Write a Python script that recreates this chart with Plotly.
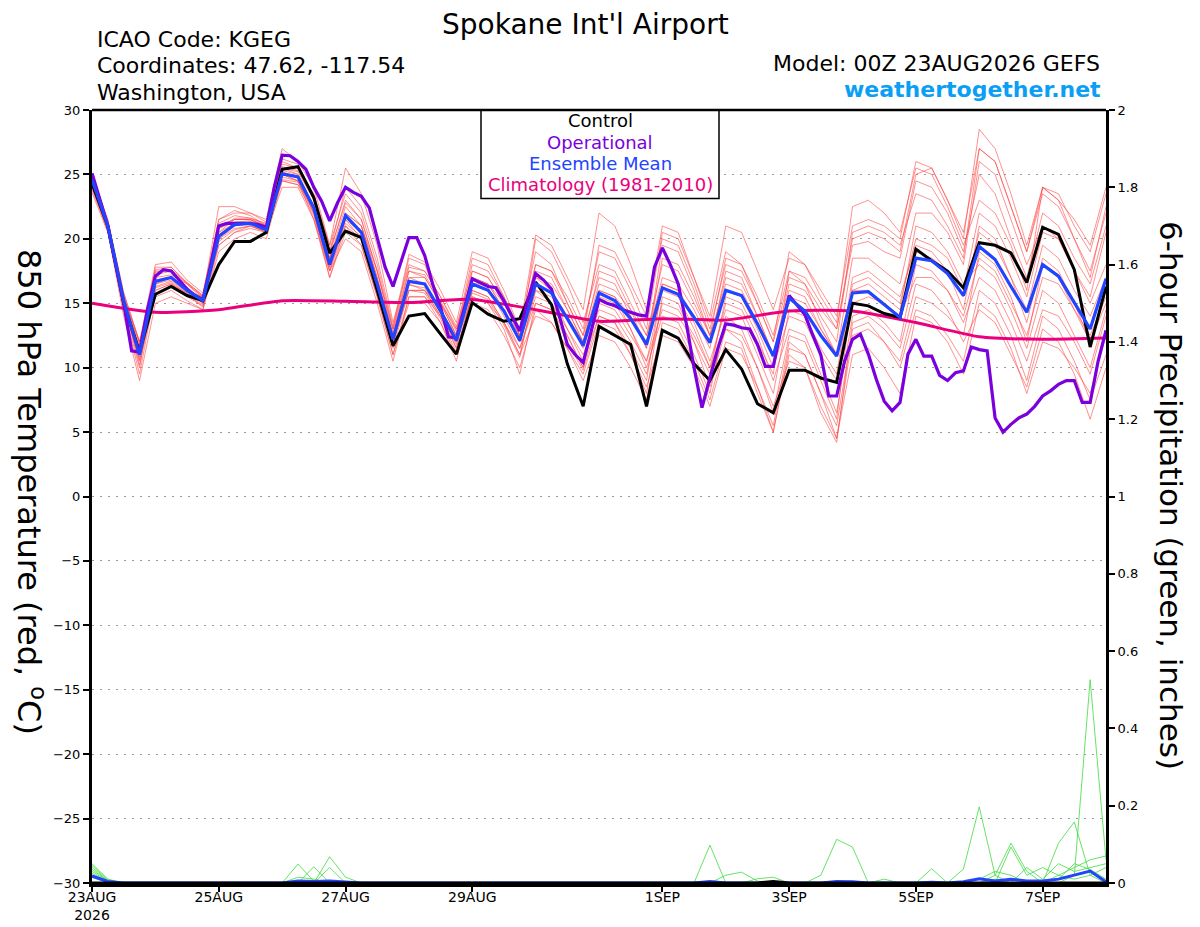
import plotly.graph_objects as go

# forecast hours, 6-hourly from 00Z 23AUG2026 to 00Z 8SEP2026
hours = [6 * i for i in range(65)]
op_hours = [3 * k for k in range(129)]
clim_hours = [24 * d for d in range(17)]

tick_hours = [0, 48, 96, 144, 216, 264, 312, 360]
tick_labels = ["23AUG<br>2026", "25AUG", "27AUG", "29AUG", "1SEP", "3SEP", "5SEP", "7SEP"]

# 850 hPa temperature, degC
control = [
    24.3, 21.0, 15.0, 11.2, 15.7, 16.3, 15.6, 15.2, 18.0, 19.8, 19.8, 20.5,
    25.4, 25.6, 23.2, 18.9, 20.6, 20.1, 16.0, 11.7, 14.0, 14.2, 12.6, 11.05,
    15.05, 14.15, 13.6, 13.8, 16.65, 14.9, 10.3, 7.0, 13.2, 12.5, 11.8, 7.0,
    12.9, 12.3, 10.3, 9.0, 11.4, 9.9, 7.2, 6.5, 9.8, 9.8, 9.2, 8.85,
    15.0, 14.8, 14.2, 13.9, 19.2, 18.3, 17.5, 16.2, 19.7, 19.5, 18.9, 16.6,
    20.9, 20.35, 17.6, 11.6, 16.3,
]
ens_mean = [
    24.6, 21.0, 15.2, 11.0, 16.7, 17.0, 16.0, 15.2, 20.2, 21.1, 21.2, 20.7,
    25.05, 24.8, 22.4, 18.0, 21.8, 20.5, 16.5, 12.2, 16.7, 16.5, 14.4, 12.1,
    16.5, 16.0, 14.4, 12.1, 16.5, 15.8, 13.8, 11.7, 15.8, 15.2, 13.8, 11.8,
    16.2, 15.7, 13.9, 11.95, 16.0, 15.6, 13.4, 10.9, 15.4, 14.4, 12.5, 10.9,
    15.8, 15.9, 14.9, 13.9, 18.5, 18.3, 17.3, 15.6, 19.4, 18.4, 16.3, 14.3,
    18.0, 17.1, 15.05, 13.0, 16.9,
]
operational = [
    25.1, 23.0, 21.0, 18.0, 15.0, 11.3, 11.2, 14.5, 17.1, 17.6, 17.5, 16.8,
    16.1, 15.6, 15.3, 18.0, 21.0, 21.2, 21.2, 21.2, 21.2, 21.1, 20.9, 24.0,
    26.5, 26.45, 26.0, 25.4, 24.0, 22.9, 21.4, 22.8, 24.0, 23.6, 23.3, 22.4,
    20.0, 17.8, 16.3, 18.3, 20.1, 20.1, 18.7, 16.5, 14.7, 12.4, 12.3, 14.6,
    16.9, 16.6, 16.3, 16.2, 15.2, 14.0, 12.85, 15.2, 17.3, 16.8, 16.1, 14.0,
    11.8, 11.0, 10.4, 12.8, 15.3, 15.0, 14.8, 14.5, 14.3, 14.1, 14.0, 17.8,
    19.3, 18.0, 16.5, 13.5, 10.0, 6.9, 9.2, 11.5, 13.4, 13.3, 13.1, 13.0,
    11.8, 10.1, 10.1, 13.0, 15.6, 14.8, 14.1, 12.5, 11.0, 7.8, 7.8, 10.5,
    12.2, 12.6, 11.05, 9.1, 7.4, 6.65, 7.3, 11.05, 12.2, 10.9, 10.9, 9.4,
    9.0, 9.6, 9.75, 11.6, 11.4, 11.3, 6.1, 5.0, 5.6, 6.1, 6.4, 7.0,
    7.8, 8.2, 8.7, 9.0, 9.0, 7.3, 7.3, 10.5, 12.9,
]
climatology = [15.0, 14.3, 14.5, 15.2, 15.15, 15.05, 15.3, 14.5, 13.6, 13.8,
               13.7, 14.4, 14.4, 13.5, 12.4, 12.2, 12.3]

# individual GEFS members
ens_01 = [25.0, 21.5, 15.8, 12.0, 18.0, 18.2, 16.8, 15.8, 21.5, 22.2, 21.8, 21.0,
          26.0, 25.5, 23.5, 19.5, 23.5, 22.0, 18.0, 13.0, 18.5, 18.0, 15.0, 12.5,
          18.0, 17.5, 15.5, 13.0, 19.0, 18.0, 15.0, 12.5, 19.5, 19.0, 16.5, 14.0,
          21.0, 20.5, 17.0, 13.5, 19.0, 18.0, 15.0, 12.0, 17.0, 16.5, 14.5, 13.0,
          19.5, 19.8, 19.0, 18.5, 24.5, 24.0, 22.0, 19.0, 25.0, 23.5, 20.0, 17.0,
          22.0, 21.0, 18.5, 16.5, 21.0]
ens_02 = [24.0, 20.5, 14.8, 10.5, 15.5, 16.0, 15.2, 14.5, 19.0, 20.0, 20.5, 20.0,
          24.5, 24.2, 21.8, 17.0, 20.5, 19.5, 15.5, 11.0, 15.0, 15.0, 13.5, 11.0,
          15.0, 14.5, 12.5, 10.0, 14.5, 13.5, 11.5, 9.5, 13.5, 13.0, 11.0, 8.5,
          12.5, 12.0, 10.0, 7.0, 11.5, 11.0, 8.5, 5.5, 12.0, 11.0, 8.0, 4.5,
          11.0, 11.5, 10.0, 8.0, 14.0, 13.5, 12.0, 9.5, 15.0, 14.0, 11.5, 8.0,
          12.0, 11.5, 10.0, 8.0, 12.5]
ens_03 = [24.5, 21.2, 15.5, 11.5, 17.2, 17.5, 16.2, 15.0, 20.5, 21.5, 21.5, 21.0,
          25.5, 25.0, 22.5, 18.5, 22.0, 21.0, 17.0, 12.5, 17.0, 16.5, 14.5, 11.5,
          17.5, 17.0, 15.0, 12.5, 17.0, 16.5, 14.5, 12.0, 17.5, 17.0, 14.5, 11.5,
          19.5, 19.0, 16.0, 12.5, 16.0, 15.5, 13.0, 10.0, 14.0, 13.5, 11.0, 9.0,
          16.5, 17.0, 16.0, 15.0, 20.0, 19.5, 18.5, 16.0, 22.0, 21.0, 18.5, 15.5,
          20.5, 20.0, 17.5, 15.0, 18.0]
ens_04 = [24.2, 20.8, 14.5, 9.5, 16.0, 16.5, 15.5, 14.8, 20.0, 20.8, 21.0, 20.5,
          24.8, 24.5, 22.0, 17.5, 21.0, 20.0, 16.0, 11.5, 16.0, 16.0, 14.0, 12.0,
          16.0, 15.5, 13.5, 11.0, 16.0, 15.0, 12.5, 10.0, 15.0, 14.5, 12.5, 10.5,
          14.5, 14.0, 12.0, 9.5, 15.5, 15.0, 12.5, 9.0, 13.0, 12.5, 9.5, 6.5,
          14.0, 14.5, 13.5, 12.0, 18.0, 17.5, 16.0, 13.5, 17.0, 16.0, 13.5, 10.5,
          14.5, 14.0, 12.0, 9.5, 14.0]
ens_05 = [24.8, 21.0, 15.0, 11.0, 16.5, 16.8, 15.8, 15.5, 21.0, 21.5, 21.5, 21.0,
          25.8, 25.5, 23.0, 18.5, 22.5, 21.0, 17.5, 12.5, 17.5, 17.0, 15.0, 12.5,
          16.5, 16.5, 15.0, 12.5, 17.5, 17.0, 14.5, 12.0, 16.5, 16.0, 14.5, 12.5,
          18.0, 17.5, 15.0, 12.5, 18.5, 18.0, 15.5, 12.5, 17.5, 17.0, 15.0, 13.0,
          20.0, 20.5, 20.0, 19.0, 25.0, 25.5, 23.0, 20.0, 28.5, 27.0, 23.5, 19.5,
          24.0, 23.5, 21.0, 19.0, 23.5]
ens_06 = [23.8, 20.8, 15.2, 11.2, 17.5, 17.5, 16.5, 15.5, 19.5, 20.5, 21.0, 20.5,
          24.0, 24.0, 21.5, 17.5, 21.5, 20.0, 16.0, 12.0, 16.5, 16.0, 14.0, 11.5,
          15.5, 15.0, 13.5, 11.5, 15.5, 15.0, 13.0, 11.0, 14.5, 14.0, 12.0, 9.5,
          15.0, 14.5, 12.5, 10.0, 13.0, 12.5, 10.0, 7.0, 10.5, 10.0, 7.0, 4.5,
          12.5, 13.0, 12.0, 10.5, 15.5, 15.0, 14.0, 12.5, 19.0, 18.0, 15.5, 12.0,
          18.0, 17.0, 14.5, 12.0, 16.0]
ens_07 = [24.6, 21.0, 15.5, 12.0, 17.0, 17.2, 16.5, 15.5, 22.5, 22.5, 22.0, 21.5,
          27.0, 26.0, 24.0, 19.5, 25.5, 23.5, 19.5, 13.5, 18.0, 17.5, 15.5, 13.0,
          17.0, 16.5, 14.5, 12.0, 20.0, 19.0, 16.5, 13.5, 18.0, 17.5, 15.0, 12.5,
          16.5, 16.0, 14.0, 11.5, 17.5, 17.0, 14.0, 11.0, 16.0, 15.5, 13.0, 11.0,
          18.5, 18.5, 17.5, 16.5, 22.0, 22.0, 20.5, 18.0, 26.0, 25.0, 21.5, 18.0,
          21.0, 20.0, 17.5, 15.5, 20.5]
ens_08 = [24.4, 21.2, 15.0, 10.8, 16.5, 17.0, 16.0, 15.0, 20.0, 21.0, 21.2, 20.8,
          25.2, 24.8, 22.0, 17.5, 20.0, 19.0, 15.0, 10.5, 15.5, 15.5, 13.5, 10.5,
          16.0, 15.5, 13.5, 11.0, 14.0, 13.5, 11.5, 9.0, 12.5, 12.0, 10.0, 7.5,
          13.5, 13.0, 10.5, 7.5, 12.0, 11.5, 8.0, 5.0, 11.5, 11.0, 8.0, 5.5,
          13.0, 13.5, 12.0, 10.0, 14.5, 14.0, 12.5, 10.5, 16.0, 15.0, 12.5, 9.0,
          14.0, 13.0, 10.5, 7.5, 11.0]
ens_09 = [23.6, 20.5, 14.5, 10.0, 16.8, 17.0, 16.0, 15.5, 21.0, 21.5, 21.5, 20.8,
          25.0, 24.5, 22.5, 18.0, 22.0, 21.0, 17.0, 12.0, 16.0, 16.0, 14.5, 12.5,
          17.0, 16.5, 14.5, 12.0, 16.0, 15.5, 14.0, 12.0, 16.0, 15.5, 14.0, 12.0,
          17.0, 16.5, 14.5, 12.0, 17.0, 16.5, 14.0, 11.0, 15.5, 15.0, 13.0, 11.0,
          16.0, 16.0, 15.0, 14.0, 19.0, 18.5, 17.5, 15.5, 20.5, 19.5, 17.0, 14.5,
          19.5, 18.5, 16.0, 14.0, 17.0]
ens_10 = [24.9, 21.4, 15.8, 12.0, 16.0, 16.5, 15.8, 15.0, 20.5, 21.2, 21.3, 20.8,
          24.5, 24.2, 22.5, 18.5, 21.5, 20.5, 16.5, 12.5, 17.0, 17.0, 15.0, 13.0,
          16.5, 16.0, 14.5, 12.5, 17.0, 16.0, 14.0, 11.5, 15.5, 15.0, 13.0, 10.5,
          16.0, 15.5, 13.0, 10.0, 15.0, 14.5, 12.0, 9.5, 17.5, 16.5, 13.5, 11.0,
          15.0, 15.5, 15.0, 14.0, 17.0, 17.0, 16.0, 14.0, 18.5, 17.5, 15.0, 12.5,
          17.0, 16.5, 14.5, 12.5, 15.5]
ens_11 = [24.3, 20.6, 14.0, 9.0, 15.0, 15.5, 15.0, 14.5, 19.5, 20.5, 20.8, 20.5,
          25.0, 24.5, 21.5, 17.0, 21.0, 19.5, 15.5, 11.0, 15.5, 15.5, 14.0, 12.0,
          15.5, 15.0, 13.0, 9.5, 15.0, 14.5, 12.5, 10.0, 16.0, 15.5, 13.0, 10.0,
          14.0, 13.5, 11.0, 8.0, 14.0, 13.0, 10.0, 6.5, 12.5, 12.0, 9.0, 6.0,
          16.0, 16.5, 15.5, 14.5, 21.0, 20.5, 19.0, 16.5, 18.0, 17.0, 14.5, 11.5,
          16.0, 15.0, 12.5, 10.0, 14.5]
ens_12 = [24.7, 21.0, 15.3, 11.3, 17.8, 17.8, 16.5, 15.3, 21.5, 22.0, 22.0, 21.3,
          25.5, 25.2, 23.0, 18.8, 23.0, 21.5, 17.5, 12.8, 17.5, 17.2, 15.2, 12.8,
          18.5, 18.0, 15.5, 12.5, 18.0, 17.5, 15.5, 13.0, 19.0, 18.5, 16.0, 13.0,
          20.5, 20.0, 17.0, 14.0, 21.0, 20.5, 17.5, 14.5, 18.5, 18.0, 16.0, 14.0,
          21.0, 21.5, 21.0, 20.0, 26.0, 25.5, 23.0, 20.5, 27.0, 26.0, 22.5, 19.0,
          23.5, 22.5, 20.0, 17.5, 22.0]
ens_13 = [24.1, 20.9, 15.0, 10.2, 16.2, 16.6, 15.6, 14.9, 20.8, 21.3, 21.4, 20.9,
          25.3, 25.0, 22.2, 17.8, 21.2, 20.2, 16.2, 11.8, 16.4, 16.2, 14.2, 11.8,
          16.8, 16.2, 14.0, 11.5, 15.0, 14.5, 12.0, 9.8, 14.0, 13.5, 11.0, 8.0,
          15.5, 15.0, 12.0, 8.5, 13.0, 12.0, 8.5, 5.0, 11.0, 10.0, 6.5, 4.2,
          13.5, 14.0, 13.0, 11.5, 16.5, 16.0, 14.5, 12.0, 14.5, 13.5, 11.0, 8.5,
          13.0, 12.0, 9.5, 6.0, 10.0]
ens_14 = [24.5, 21.1, 15.4, 11.6, 17.4, 17.6, 16.6, 15.6, 21.2, 21.8, 21.6, 21.1,
          25.6, 25.3, 23.2, 19.0, 24.0, 22.5, 18.5, 13.2, 18.8, 18.2, 16.0, 13.5,
          19.0, 18.5, 16.0, 13.0, 20.3, 19.5, 17.0, 14.5, 22.0, 21.0, 18.0, 14.5,
          20.0, 19.5, 16.5, 13.0, 18.0, 17.5, 15.0, 12.0, 19.0, 18.0, 15.5, 13.5,
          22.5, 23.0, 22.0, 20.5, 25.5, 25.0, 22.5, 19.5, 23.0, 22.0, 19.5, 16.0,
          24.0, 23.0, 20.0, 17.0, 22.5]
ens_15 = [24.0, 20.7, 14.8, 10.6, 16.3, 16.7, 15.7, 14.7, 19.8, 20.7, 21.0, 20.6,
          24.6, 24.4, 22.0, 17.8, 21.8, 20.5, 16.5, 12.0, 16.0, 15.8, 13.8, 11.2,
          15.8, 15.3, 13.3, 10.8, 16.5, 15.8, 13.0, 10.5, 14.0, 13.5, 11.5, 9.0,
          16.5, 16.0, 13.5, 10.5, 14.5, 14.0, 11.0, 8.0, 14.5, 14.0, 11.5, 9.5,
          17.0, 17.5, 16.5, 15.5, 19.5, 19.0, 17.5, 14.5, 21.0, 20.0, 17.0, 13.5,
          18.5, 17.5, 15.0, 12.0, 15.0]
ens_16 = [24.8, 21.3, 15.6, 11.8, 17.6, 17.8, 16.6, 15.6, 20.8, 21.6, 21.6, 21.2,
          26.2, 25.8, 23.2, 19.0, 22.8, 21.5, 17.5, 13.0, 17.8, 17.5, 15.5, 13.2,
          17.5, 17.0, 15.0, 12.8, 18.0, 17.5, 15.0, 12.5, 17.0, 16.5, 14.0, 11.5,
          18.5, 18.0, 15.5, 12.5, 16.5, 16.0, 13.5, 11.0, 16.5, 16.0, 14.0, 12.0,
          20.5, 21.0, 20.5, 19.5, 23.5, 23.0, 21.0, 18.5, 27.0, 26.0, 22.5, 19.0,
          24.0, 23.0, 21.5, 19.5, 24.0]
members = [ens_01, ens_02, ens_03, ens_04, ens_05, ens_06, ens_07, ens_08,
           ens_09, ens_10, ens_11, ens_12, ens_13, ens_14, ens_15, ens_16]

# 6-hour precipitation (inches), non-zero steps only, keyed by 6h step index
prcp_01 = {0: 0.050, 1: 0.010, 13: 0.049, 14: 0.005, 39: 0.098, 55: 0.036, 56: 0.197, 57: 0.020}
prcp_02 = {0: 0.045, 1: 0.008, 14: 0.042, 46: 0.020, 47: 0.113, 48: 0.093, 62: 0.020, 63: 0.526, 64: 0.060}
prcp_03 = {0: 0.040, 1: 0.006, 15: 0.068, 16: 0.015, 40: 0.020, 41: 0.028, 42: 0.005, 61: 0.103, 62: 0.158, 63: 0.020}
prcp_04 = {0: 0.035, 1: 0.005, 15: 0.040, 42: 0.011, 43: 0.015, 57: 0.020, 58: 0.103, 59: 0.030}
prcp_05 = {0: 0.030, 1: 0.004, 13: 0.015, 14: 0.010, 50: 0.010, 53: 0.037, 58: 0.093, 59: 0.020,
           60: 0.040, 61: 0.020, 62: 0.040, 63: 0.060, 64: 0.070}
prcp_06 = {0: 0.025, 1: 0.003, 44: 0.003, 57: 0.010, 59: 0.040, 60: 0.010, 61: 0.050, 62: 0.030,
           63: 0.040, 64: 0.050}
prcp_07 = {0: 0.020, 56: 0.010, 57: 0.030, 58: 0.020, 60: 0.005, 61: 0.010, 62: 0.050, 63: 0.035, 64: 0.010}
prcp_08 = {0: 0.015, 61: 0.020, 62: 0.010, 63: 0.020, 64: 0.040}
prcp_members = [prcp_01, prcp_02, prcp_03, prcp_04, prcp_05, prcp_06, prcp_07, prcp_08]
prcp_mean = {0: 0.018, 1: 0.004, 13: 0.005, 14: 0.004, 15: 0.005, 16: 0.002, 39: 0.004,
             47: 0.004, 48: 0.003, 53: 0.002, 55: 0.003, 56: 0.011, 57: 0.005, 58: 0.010,
             59: 0.005, 60: 0.005, 61: 0.010, 62: 0.020, 63: 0.031, 64: 0.003}
prcp_control = {43: 0.004}

FONT = "DejaVu Sans, Liberation Sans, Arial"
RED = "rgba(255,70,70,0.75)"
GREEN = "#3ddc3d"
PURPLE = "#7a00de"
BLUE = "#2244ff"
PINK = "#ea007c"

# plot area in page pixels (the page puts the figure 8px in from the corner)
L, R, T, B = 92, 1106, 110, 883
PAGE_OFF = 8
FIG_W, FIG_H = 1200 - PAGE_OFF, 927 - PAGE_OFF


def px_x(x):
    return (x - L) / (R - L)


def px_y(y):
    return (B - y) / (B - T)


def expand(steps):
    return [steps.get(i, 0.0) for i in range(len(hours))]


fig = go.Figure()

for m in members:
    fig.add_trace(go.Scatter(x=hours, y=m, mode="lines",
                             line=dict(color=RED, width=0.8), hoverinfo="skip"))

fig.add_trace(go.Scatter(x=clim_hours, y=climatology, mode="lines",
                         line=dict(color=PINK, width=3, shape="spline", smoothing=0.6)))
fig.add_trace(go.Scatter(x=hours, y=control, mode="lines", line=dict(color="black", width=3)))
fig.add_trace(go.Scatter(x=op_hours, y=operational, mode="lines", line=dict(color=PURPLE, width=3.2)))
fig.add_trace(go.Scatter(x=hours, y=ens_mean, mode="lines", line=dict(color=BLUE, width=3.2)))

for p in prcp_members:
    fig.add_trace(go.Scatter(x=hours, y=expand(p), mode="lines", yaxis="y2",
                             line=dict(color=GREEN, width=0.8), hoverinfo="skip"))
fig.add_trace(go.Scatter(x=hours, y=expand(prcp_mean), mode="lines", yaxis="y2",
                         line=dict(color=BLUE, width=3)))
fig.add_trace(go.Scatter(x=hours, y=expand(prcp_control), mode="lines", yaxis="y2",
                         line=dict(color="black", width=3)))

annotations = [
    dict(text="Spokane Int'l Airport", x=px_x(585), y=px_y(24), font=dict(size=28)),
    dict(text="ICAO Code: KGEG", x=px_x(95), y=px_y(39), xanchor="left", font=dict(size=22)),
    dict(text="Coordinates: 47.62, -117.54", x=px_x(95), y=px_y(66), xanchor="left", font=dict(size=22)),
    dict(text="Washington, USA", x=px_x(95), y=px_y(93), xanchor="left", font=dict(size=22)),
    dict(text="Model: 00Z 23AUG2026 GEFS", x=px_x(1102), y=px_y(63), xanchor="right", font=dict(size=22)),
    dict(text="<b>weathertogether.net</b>", x=px_x(1103), y=px_y(89), xanchor="right",
         font=dict(size=22, color="#0a9ff5")),
    dict(text="Control", x=px_x(600), y=px_y(121), font=dict(size=18)),
    dict(text="Operational", x=px_x(600), y=px_y(142), font=dict(size=18, color=PURPLE)),
    dict(text="Ensemble Mean", x=px_x(600), y=px_y(163), font=dict(size=18, color=BLUE)),
    dict(text="Climatology (1981-2010)", x=px_x(600), y=px_y(185), font=dict(size=18, color=PINK)),
    dict(text="850 hPa Temperature (red, <sup>o</sup>C)", x=px_x(31), y=px_y(492),
         textangle=90, font=dict(size=32)),
    dict(text="6-hour Precipitation (green, inches)", x=px_x(1171), y=px_y(495),
         textangle=90, font=dict(size=31)),
]
for a in annotations:
    a.update(xref="paper", yref="paper", showarrow=False)
    a.setdefault("xanchor", "center")
    a.setdefault("yanchor", "middle")

shapes = [
    dict(type="rect", xref="paper", yref="paper", x0=px_x(481), x1=px_x(719), y0=px_y(198.5), y1=1,
         fillcolor="white", line=dict(color="black", width=1.5), layer="above"),
    dict(type="line", xref="paper", yref="paper", x0=0, x1=1, y0=1, y1=1,
         line=dict(color="black", width=2.5), layer="above"),
]

fig.update_layout(
    width=FIG_W, height=FIG_H,
    margin=dict(l=L - PAGE_OFF, r=1200 - R, t=T - PAGE_OFF, b=927 - B),
    paper_bgcolor="white", plot_bgcolor="white",
    font=dict(family=FONT, color="black"),
    showlegend=False,
    annotations=annotations,
    shapes=shapes,
    xaxis=dict(range=[0, 384], tickvals=tick_hours, ticktext=tick_labels, automargin=False,
               showgrid=False, zeroline=False, showline=True, linecolor="black", linewidth=3.5,
               ticks="outside", ticklen=5, tickwidth=1.5, tickcolor="black",
               ticklabelstandoff=-7, tickfont=dict(size=14)),
    yaxis=dict(range=[-30, 30], tickvals=list(range(-30, 31, 5)), automargin=False,
               showgrid=True, gridcolor="#9a9a9a", griddash="2px,6px", gridwidth=1,
               zeroline=False, showline=True, linecolor="black", linewidth=3,
               ticks="outside", ticklen=6, tickwidth=1.5, tickcolor="black",
               tickfont=dict(size=13)),
    yaxis2=dict(range=[0, 2], tickvals=[0.2 * k for k in range(11)], automargin=False,
                ticktext=["0", "0.2", "0.4", "0.6", "0.8", "1", "1.2", "1.4", "1.6", "1.8", "2"],
                overlaying="y", side="right", showgrid=False, zeroline=False,
                showline=True, linecolor="black", linewidth=3,
                ticks="outside", ticklen=6, tickwidth=1.5, tickcolor="black",
                tickfont=dict(size=13)),
)

fig.write_html("out.html")
